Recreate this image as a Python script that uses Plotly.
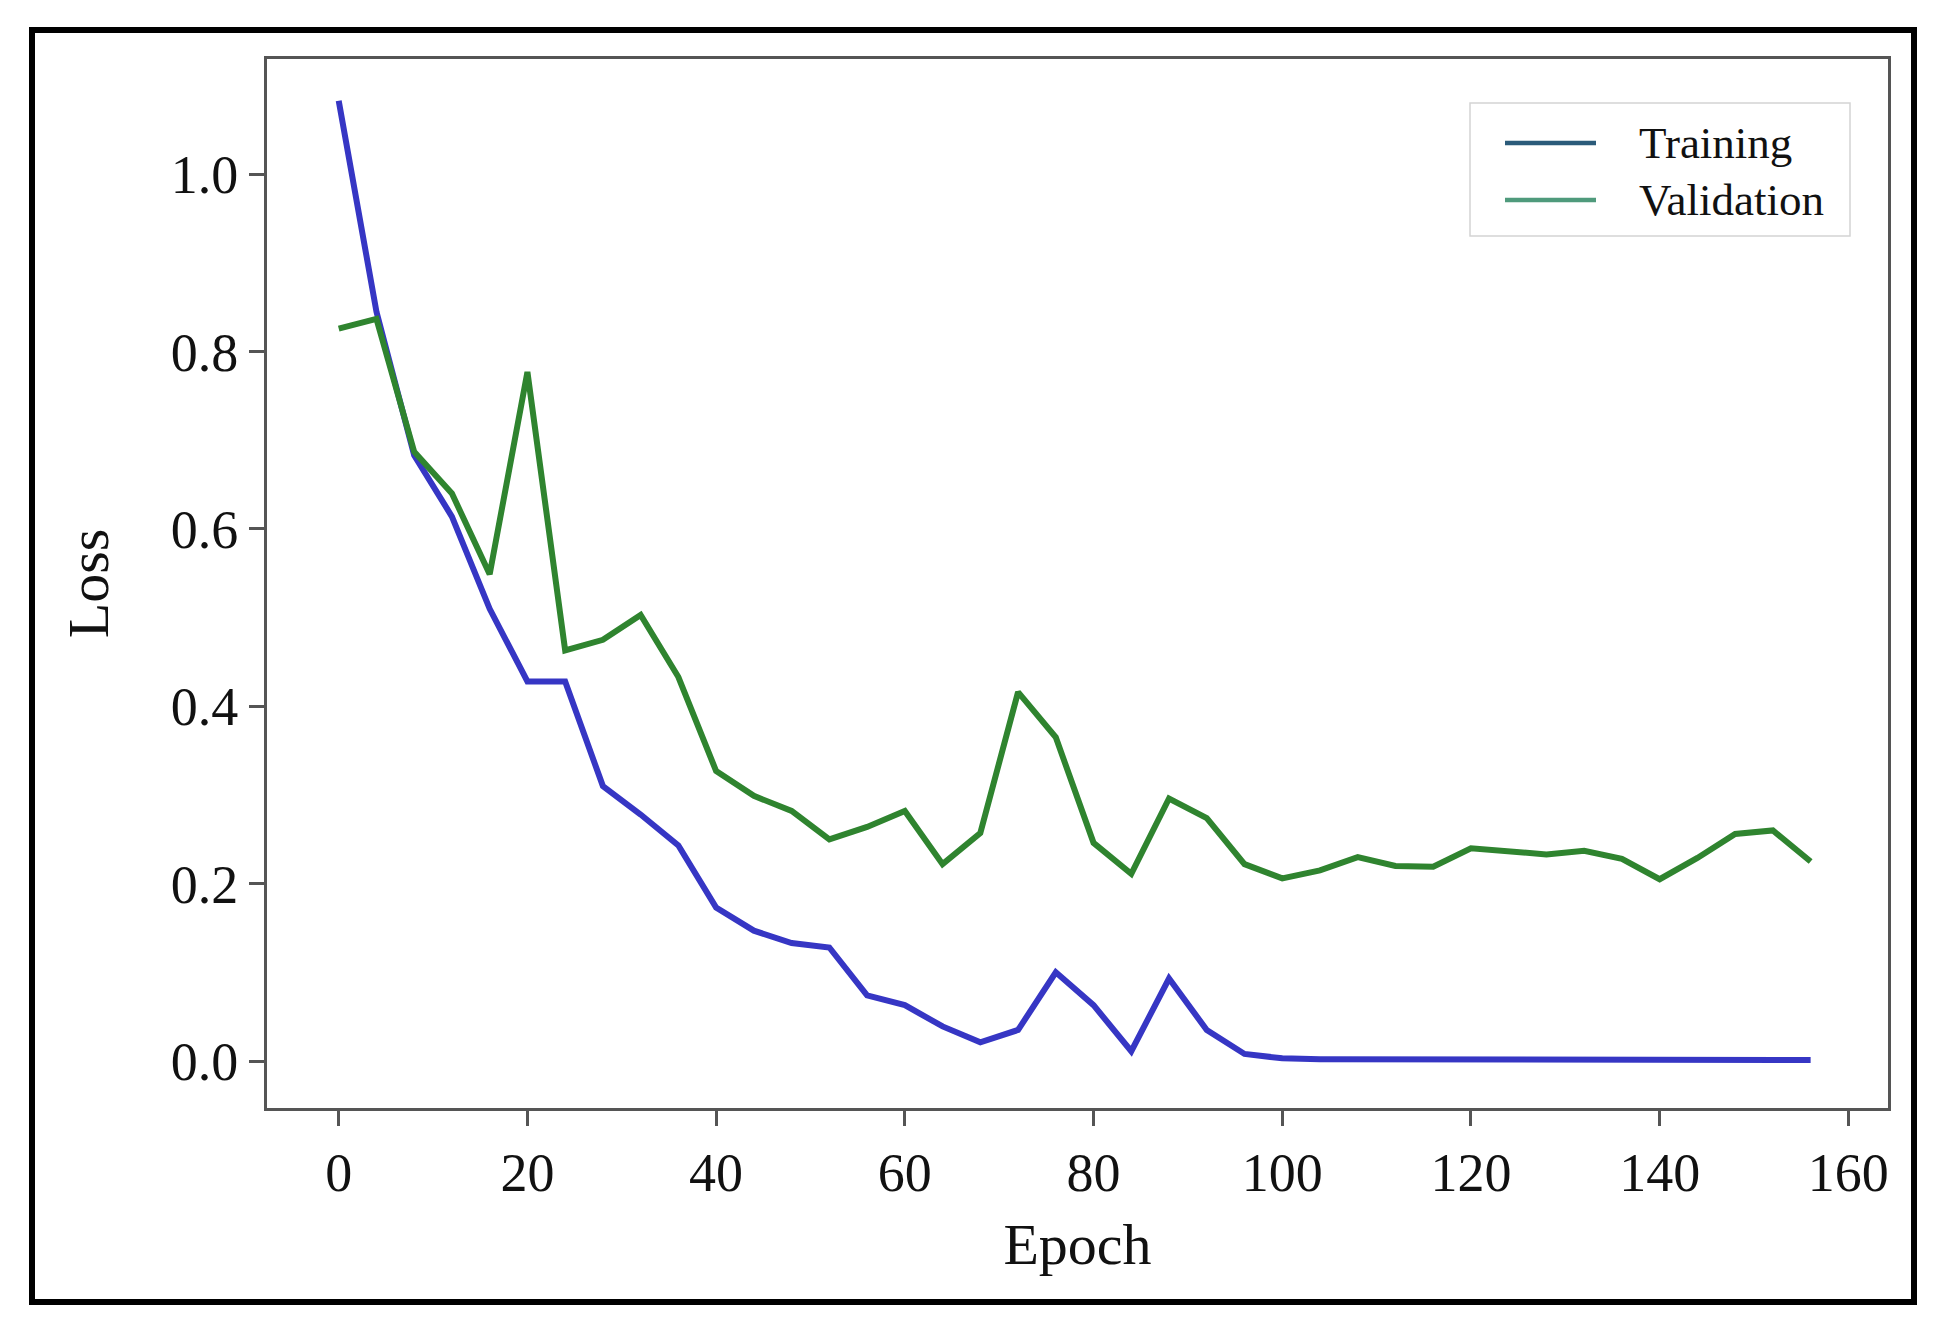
import plotly.graph_objects as go

epochs = [0, 4, 8, 12, 16, 20, 24, 28, 32, 36, 40, 44, 48, 52, 56, 60, 64, 68, 72, 76,
          80, 84, 88, 92, 96, 100, 104, 108, 112, 116, 120, 124, 128, 132, 136, 140, 144, 148, 152, 156]

training_loss = [1.083, 0.845, 0.683, 0.614, 0.51, 0.428, 0.428, 0.31, 0.278, 0.243,
                 0.173, 0.147, 0.133, 0.128, 0.074, 0.063, 0.039, 0.021, 0.035, 0.100,
                 0.063, 0.011, 0.093, 0.035, 0.008, 0.003, 0.002, 0.002, 0.002, 0.001,
                 0.001, 0.001, 0.001, 0.001, 0.001, 0.001, 0.001, 0.001, 0.001, 0.001]

validation_loss = [0.826, 0.837, 0.687, 0.64, 0.549, 0.777, 0.463, 0.475, 0.503, 0.433,
                   0.327, 0.299, 0.282, 0.25, 0.264, 0.282, 0.222, 0.257, 0.416, 0.365,
                   0.246, 0.211, 0.296, 0.274, 0.222, 0.206, 0.215, 0.23, 0.22, 0.219,
                   0.24, 0.236, 0.233, 0.237, 0.228, 0.205, 0.229, 0.256, 0.26, 0.225]

series_names = ["Training", "Validation"]
line_colors = ["#3636c4", "#2f842f"]
legend_swatch_colors = ["#2b5b7a", "#4f9a7c"]
x_ticks = [0, 20, 40, 60, 80, 100, 120, 140, 160]
y_ticks = [0.0, 0.2, 0.4, 0.6, 0.8, 1.0]
y_tick_labels = ["0.0", "0.2", "0.4", "0.6", "0.8", "1.0"]

FONT = "Liberation Serif, Times New Roman, serif"
AXIS_COLOR = "#555555"
TEXT_COLOR = "#111111"

fig = go.Figure()
fig.add_trace(go.Scatter(x=epochs, y=training_loss, mode="lines", name=series_names[0],
                         line=dict(color=line_colors[0], width=6), showlegend=False))
fig.add_trace(go.Scatter(x=epochs, y=validation_loss, mode="lines", name=series_names[1],
                         line=dict(color=line_colors[1], width=6), showlegend=False))

L, R, T, B = 267, 1888, 59, 1108
W, H = 1949, 1341
pw, ph = R - L, B - T


def px(x):
    return (x - L) / pw


def py(y):
    return (B - y) / ph


shapes = [
    # outer black frame around the whole figure
    dict(type="rect", xref="paper", yref="paper",
         x0=px(32), x1=px(1914), y0=py(1302), y1=py(30),
         line=dict(color="black", width=6), fillcolor="rgba(0,0,0,0)", layer="above"),
    # legend box
    dict(type="rect", xref="paper", yref="paper",
         x0=px(1470), x1=px(1850), y0=py(236), y1=py(103),
         line=dict(color="#d4d4d4", width=1.5), fillcolor="white", layer="above"),
]
annotations = []
legend_rows_y = [143, 200]
for name, col, ry in zip(series_names, legend_swatch_colors, legend_rows_y):
    shapes.append(dict(type="line", xref="paper", yref="paper",
                       x0=px(1505), x1=px(1596), y0=py(ry), y1=py(ry),
                       line=dict(color=col, width=4.5), layer="above"))
    annotations.append(dict(text=name, xref="paper", yref="paper",
                            x=px(1637), y=py(ry), xanchor="left", yanchor="middle",
                            showarrow=False,
                            font=dict(family=FONT, size=45, color=TEXT_COLOR)))

fig.update_layout(
    width=W, height=H,
    margin=dict(l=L, r=W - R, t=T, b=H - B, pad=0),
    paper_bgcolor="white", plot_bgcolor="white",
    font=dict(family=FONT, color=TEXT_COLOR, size=54),
    showlegend=False,
    xaxis=dict(range=[-7.6, 164.2], tickmode="array", tickvals=x_ticks,
               showgrid=False, zeroline=False, showline=True, mirror=True,
               linecolor=AXIS_COLOR, linewidth=3, ticks="outside", ticklen=15,
               tickwidth=2.5, tickcolor=AXIS_COLOR,
               tickfont=dict(family=FONT, size=54, color=TEXT_COLOR),
               title=dict(text="Epoch", font=dict(family=FONT, size=58, color=TEXT_COLOR),
                          standoff=22)),
    yaxis=dict(range=[-0.053, 1.13], tickmode="array", tickvals=y_ticks,
               ticktext=y_tick_labels,
               showgrid=False, zeroline=False, showline=True, mirror=True,
               linecolor=AXIS_COLOR, linewidth=3, ticks="outside", ticklen=15,
               tickwidth=2.5, tickcolor=AXIS_COLOR,
               tickfont=dict(family=FONT, size=54, color=TEXT_COLOR),
               title=dict(text="Loss", font=dict(family=FONT, size=58, color=TEXT_COLOR),
                          standoff=44)),
    shapes=shapes,
    annotations=annotations,
)

fig.write_html("out.html")
